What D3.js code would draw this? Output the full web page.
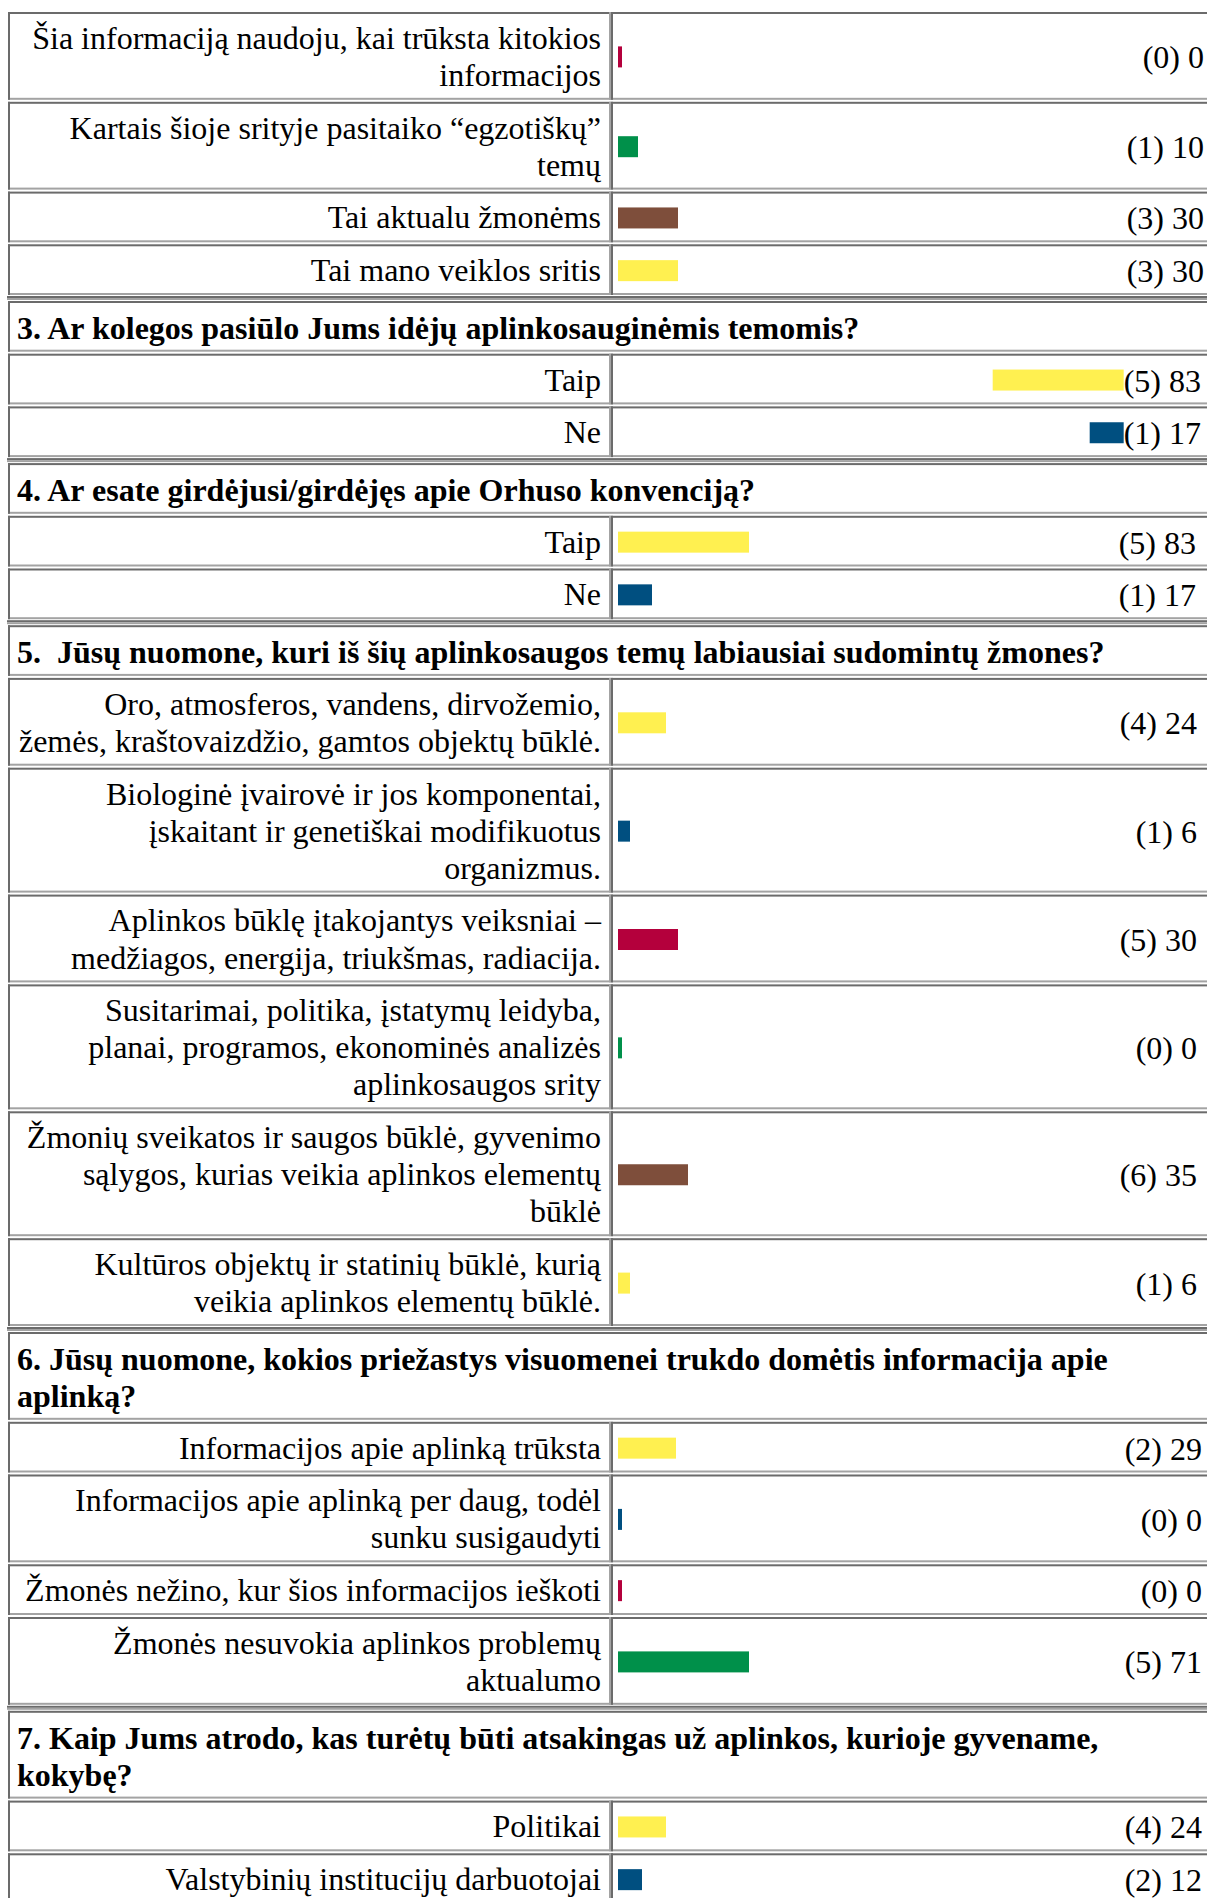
<!DOCTYPE html>
<html><head><meta charset="utf-8">
<script src="https://cdn.jsdelivr.net/npm/d3@7"></script>
<style>
html,body{margin:0;padding:0;background:#fff;overflow:hidden}
svg{display:block}
text{font-family:"Liberation Serif","Times New Roman",serif;font-size:32px;fill:#000;white-space:pre}
</style>
</head><body>
<svg id="chart" width="1207" height="1898"></svg>
<script>
// ---------- DATA ----------
const barColors = ["#fff050", "#004f80", "#b4003c", "#00904a", "#7e4e3b"];

const q2Title = null;
const q2Labels = ["Šia informaciją naudoju, kai trūksta kitokios\ninformacijos", "Kartais šioje srityje pasitaiko “egzotiškų”\ntemų", "Tai aktualu žmonėms", "Tai mano veiklos sritis"];
const q2Counts = [0, 1, 3, 3];
const q2Percents = [0, 10, 30, 30];

const q3Title = "3. Ar kolegos pasiūlo Jums idėjų aplinkosauginėmis temomis?";
const q3Labels = ["Taip", "Ne"];
const q3Counts = [5, 1];
const q3Percents = [83, 17];

const q4Title = "4. Ar esate girdėjusi/girdėjęs apie Orhuso konvenciją?";
const q4Labels = ["Taip", "Ne"];
const q4Counts = [5, 1];
const q4Percents = [83, 17];

const q5Title = "5.  Jūsų nuomone, kuri iš šių aplinkosaugos temų labiausiai sudomintų žmones?";
const q5Labels = [
  "Oro, atmosferos, vandens, dirvožemio,\nžemės, kraštovaizdžio, gamtos objektų būklė.",
  "Biologinė įvairovė ir jos komponentai,\nįskaitant ir genetiškai modifikuotus\norganizmus.",
  "Aplinkos būklę įtakojantys veiksniai –\nmedžiagos, energija, triukšmas, radiacija.",
  "Susitarimai, politika, įstatymų leidyba,\nplanai, programos, ekonominės analizės\naplinkosaugos srity",
  "Žmonių sveikatos ir saugos būklė, gyvenimo\nsąlygos, kurias veikia aplinkos elementų\nbūklė",
  "Kultūros objektų ir statinių būklė, kurią\nveikia aplinkos elementų būklė."
];
const q5Counts = [4, 1, 5, 0, 6, 1];
const q5Percents = [24, 6, 30, 0, 35, 6];

const q6Title = "6. Jūsų nuomone, kokios priežastys visuomenei trukdo domėtis informacija apie\naplinką?";
const q6Labels = [
  "Informacijos apie aplinką trūksta",
  "Informacijos apie aplinką per daug, todėl\nsunku susigaudyti",
  "Žmonės nežino, kur šios informacijos ieškoti",
  "Žmonės nesuvokia aplinkos problemų\naktualumo"
];
const q6Counts = [2, 0, 0, 5];
const q6Percents = [29, 0, 0, 71];

const q7Title = "7. Kaip Jums atrodo, kas turėtų būti atsakingas už aplinkos, kurioje gyvename,\nkokybę?";
const q7Labels = ["Politikai", "Valstybinių institucijų darbuotojai"];
const q7Counts = [4, 2];
const q7Percents = [24, 12];

// ---------- LAYOUT ----------
const sections = [
  {title: q2Title, labels: q2Labels, counts: q2Counts, percents: q2Percents, colorOffset: 2, barRight: false, valueRight: 1204},
  {title: q3Title, labels: q3Labels, counts: q3Counts, percents: q3Percents, colorOffset: 0, barRight: true,  valueRight: 1201},
  {title: q4Title, labels: q4Labels, counts: q4Counts, percents: q4Percents, colorOffset: 0, barRight: false, valueRight: 1196},
  {title: q5Title, labels: q5Labels, counts: q5Counts, percents: q5Percents, colorOffset: 0, barRight: false, valueRight: 1197},
  {title: q6Title, labels: q6Labels, counts: q6Counts, percents: q6Percents, colorOffset: 0, barRight: false, valueRight: 1202},
  {title: q7Title, labels: q7Labels, counts: q7Counts, percents: q7Percents, colorOffset: 0, barRight: false, valueRight: 1202}
];

const W = 1207;
const tableLeft = 8;
const divX = 611;
const labelRight = 601;
const barLeft = 618;
const rowBase = 15.6, lineH = 37.1, sectionGap = 4;
const barH = 21;
const dark = "#6b6b6b", light = "#a3a3a3";

const xBar = d3.scaleLinear().domain([0, 65.5]).range([0, 131]).clamp(true);

const svg = d3.select("#chart");
const gBg = svg.append("g");
const gMarks = svg.append("g");

function drawBox(top, h, withDivider) {
  const b = top + h;
  gBg.append("rect").attr("x", tableLeft).attr("y", top).attr("width", W - tableLeft + 5).attr("height", h).attr("fill", "#fff");
  gBg.append("rect").attr("x", tableLeft).attr("y", top).attr("width", W).attr("height", 2).attr("fill", dark);
  gBg.append("rect").attr("x", tableLeft).attr("y", b - 2).attr("width", W).attr("height", 2).attr("fill", light);
  gBg.append("rect").attr("x", tableLeft).attr("y", top).attr("width", 2).attr("height", h).attr("fill", dark);
  if (withDivider) {
    gBg.append("rect").attr("x", divX - 2).attr("y", top).attr("width", 2).attr("height", h).attr("fill", light);
    gBg.append("rect").attr("x", divX).attr("y", top).attr("width", 2).attr("height", h).attr("fill", dark);
  }
}

function multiText(g, str, x, y0, anchor, weight) {
  const t = g.append("text").attr("text-anchor", anchor).attr("font-weight", weight || "normal");
  str.split("\n").forEach((ln, i) => {
    t.append("tspan").attr("x", x).attr("y", y0 + i * lineH).text(ln);
  });
  return t;
}

let y = 12;
sections.forEach((sec, si) => {
  if (si > 0) {
    gBg.append("rect").attr("x", tableLeft - 1).attr("y", y - 1).attr("width", W).attr("height", 2).attr("fill", dark);
    gBg.append("rect").attr("x", tableLeft - 1).attr("y", y + 1).attr("width", W).attr("height", 2).attr("fill", light);
    y += sectionGap;
  }
  if (sec.title) {
    const n = sec.title.split("\n").length;
    const pitch = rowBase + lineH * n;
    drawBox(y, pitch - 2, false);
    multiText(gMarks, sec.title, 17, y + 37.8, "start", "bold");
    y += pitch;
  }
  sec.labels.forEach((lab, i) => {
    const n = lab.split("\n").length;
    const pitch = rowBase + lineH * n;
    const h = pitch - 2;
    drawBox(y, h, true);
    multiText(gMarks, lab, labelRight, y + 36.8, "end");
    const cy = y + h / 2;
    const vt = gMarks.append("text").attr("text-anchor", "end")
      .attr("x", sec.valueRight).attr("y", cy + 12.5)
      .text("(" + sec.counts[i] + ") " + sec.percents[i]);
    const bw = Math.max(xBar(sec.percents[i]), 4);
    let bx = barLeft;
    if (sec.barRight) {
      bx = sec.valueRight - vt.node().getComputedTextLength() - bw;
    }
    gMarks.append("rect")
      .attr("x", bx).attr("y", cy - barH / 2 + 1)
      .attr("width", bw).attr("height", barH)
      .attr("fill", barColors[(i + sec.colorOffset) % barColors.length]);
    y += pitch;
  });
});
</script>
</body></html>
